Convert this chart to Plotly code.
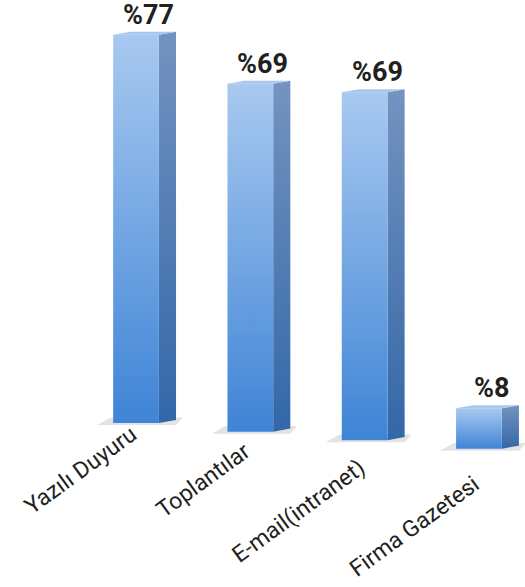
import plotly.graph_objects as go

categories = ["Yazılı Duyuru", "Toplantılar", "E-mail(intranet)", "Firma Gazetesi"]
values = [77, 69, 69, 8]
labels = ["%" + str(v) for v in values]

W = 0.40      # front face width (category units)
D = 0.15      # side depth (category units)
DY = 0.6      # top face rise (value units)
TILT = 1.69   # perspective drop of the floor per category (value units)
LTILT = 3.3   # drop of category label anchors per category (value units)

fig = go.Figure()

for i, v in enumerate(values):
    x0, x1 = i - W / 2, i + W / 2
    b = -TILT * i
    t = b + v
    # shadow
    fig.add_trace(go.Scatter(
        x=[x0 - 0.14, x1 + D, x1 + D + 0.06, x0 - 0.02, x0 - 0.14],
        y=[b - 0.4, b - 0.4, b + DY + 0.5, b + DY + 0.5, b - 0.4],
        fill="toself", mode="none", fillcolor="rgba(80,80,80,0.16)",
        hoverinfo="skip", showlegend=False))
    # side face
    fig.add_trace(go.Scatter(
        x=[x1, x1 + D, x1 + D, x1, x1],
        y=[b, b + DY, t + DY, t, b],
        fill="toself", mode="none",
        fillgradient=dict(type="vertical",
                          colorscale=[[0, "#3367a8"], [1, "#7493c0"]]),
        hoverinfo="skip", showlegend=False))
    # front face
    fig.add_trace(go.Scatter(
        x=[x0, x1, x1, x0, x0],
        y=[b, b, t, t, b],
        fill="toself", mode="none",
        fillgradient=dict(type="vertical",
                          colorscale=[[0, "#3f84d6"], [1, "#a8c9f0"]]),
        hoverinfo="skip", showlegend=False))
    # top face
    fig.add_trace(go.Scatter(
        x=[x0, x1, x1 + D, x0 + D, x0],
        y=[t, t, t + DY, t + DY, t],
        fill="toself", mode="none", fillcolor="#a9c7ec",
        hoverinfo="skip", showlegend=False))
    # value label
    fig.add_annotation(
        x=i + 0.11, y=t + DY, text=labels[i], showarrow=False,
        xanchor="center", yanchor="bottom", yshift=-1,
        font=dict(family="Roboto", size=27, color="#231f20", weight="bold"))
    # category label
    fig.add_annotation(
        x=i + 0.07, y=1.0 - LTILT * i, text=categories[i], showarrow=False,
        xanchor="right", yanchor="top", textangle=-36,
        font=dict(family="Roboto", size=23, color="#231f20"))

fig.update_layout(
    width=525, height=587,
    margin=dict(l=0, r=0, t=0, b=0),
    paper_bgcolor="white", plot_bgcolor="white",
    showlegend=False,
    xaxis=dict(range=[-1.19, 3.403], visible=False, showgrid=False,
               zeroline=False, automargin=False),
    yaxis=dict(range=[-32.5, 83.9], visible=False, showgrid=False,
               zeroline=False, automargin=False),
)

fig.write_html("out.html",
               config={"displayModeBar": False},
               post_script="document.body.style.margin='0';"
                           "document.body.style.overflow='hidden';")
